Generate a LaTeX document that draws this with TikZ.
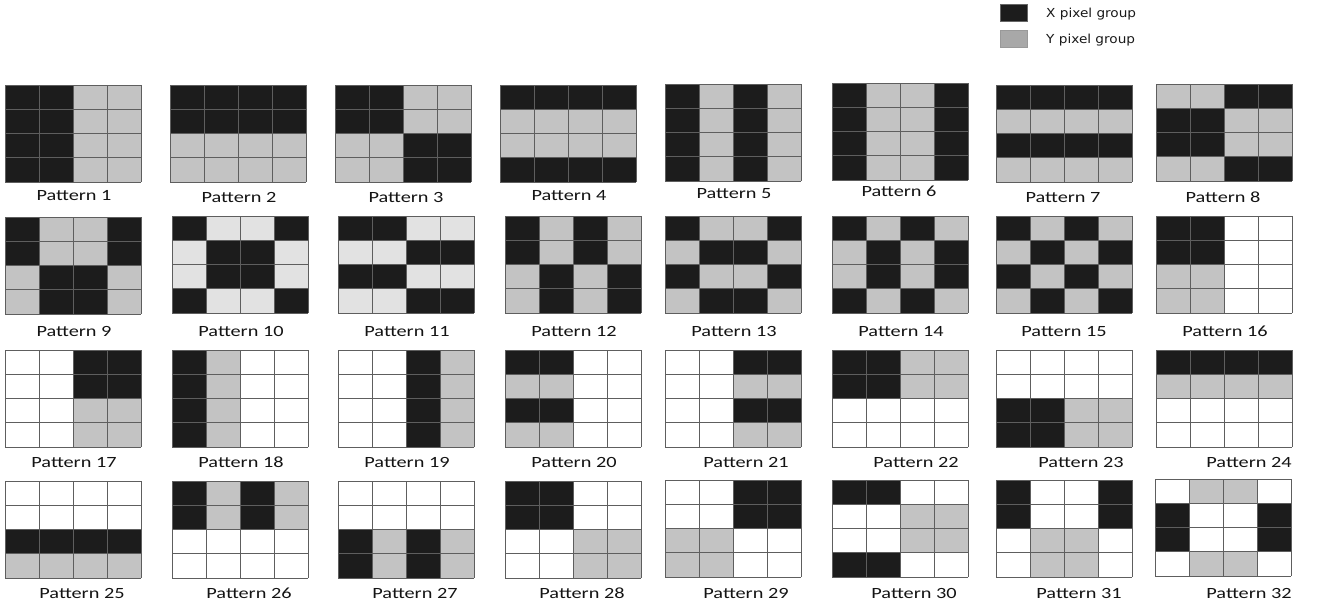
\documentclass[tikz,border=0pt]{standalone}
\usepackage{fontspec}
\newfontfamily\labfont[FakeStretch=1.3]{Carlito}
\newfontfamily\legfont[FakeStretch=1.1]{DejaVu Sans}
\definecolor{pB}{HTML}{1C1C1C}
\definecolor{pG}{HTML}{C3C3C3}
\definecolor{pL}{HTML}{E2E2E2}
\definecolor{pW}{HTML}{FFFFFF}
\definecolor{legG}{HTML}{A8A8A8}
\definecolor{gridc}{HTML}{5E5E5E}
\tikzset{
  gline/.style={draw=gridc, line width=0.8pt},
  plabel/.style={font=\labfont\fontsize{15.6}{15.6}\selectfont, text=black!92, anchor=base, inner sep=0pt},
  legtext/.style={font=\legfont\fontsize{12.4}{12.4}\selectfont, text=black!90, anchor=west, inner sep=0pt},
}
\newcommand\pgrid[6]{%
  \foreach \c [count=\i from 0] in {#3} {
    \pgfmathtruncatemacro\prow{int(\i/4)}
    \pgfmathtruncatemacro\pcol{mod(\i,4)}
    \fill[fill=p\c] ({#1+34*\pcol},{#2+24.25*\prow}) rectangle ++(34,24.25);
  }
  \foreach \pcol in {0,...,4} \draw[gline] ({#1+34*\pcol},#2) -- ++(0,97);
  \foreach \prow in {0,...,4} \draw[gline] (#1,{#2+24.25*\prow}) -- ++(136,0);
  \node[plabel] (p#6) at (#4,#5) {Pattern #6};
}
\begin{document}
\begin{tikzpicture}[x=1pt,y=-1pt]
\fill[white] (0,0) rectangle (1319,608);
\useasboundingbox (0,0) rectangle (1319,608);
% legend
\node[fill=pB, draw=black!60, line width=0.4pt, minimum width=27pt, minimum height=17pt, inner sep=0pt, anchor=north west] (legx) at (1000,4) {};
\node[fill=legG, draw=black!40, line width=0.4pt, minimum width=27pt, minimum height=17pt, inner sep=0pt, anchor=north west] (legy) at (1000,30) {};
\node[legtext] (legxt) at (1046,14) {X pixel group};
\node[legtext] (legyt) at (1046,40) {Y pixel group};
% row 1
\pgrid{5}{85}{B,B,G,G, B,B,G,G, B,B,G,G, B,B,G,G}{74}{200}{1}
\pgrid{170}{85}{B,B,B,B, B,B,B,B, G,G,G,G, G,G,G,G}{239}{202}{2}
\pgrid{335}{85}{B,B,G,G, B,B,G,G, G,G,B,B, G,G,B,B}{406}{202}{3}
\pgrid{500}{85}{B,B,B,B, G,G,G,G, G,G,G,G, B,B,B,B}{569}{200}{4}
\pgrid{665}{84}{B,G,B,G, B,G,B,G, B,G,B,G, B,G,B,G}{734}{198}{5}
\pgrid{832}{83}{B,G,G,B, B,G,G,B, B,G,G,B, B,G,G,B}{899}{196}{6}
\pgrid{996}{85}{B,B,B,B, G,G,G,G, B,B,B,B, G,G,G,G}{1063}{202}{7}
\pgrid{1156}{84}{G,G,B,B, B,B,G,G, B,B,G,G, G,G,B,B}{1223}{202}{8}
% row 2
\pgrid{5}{217}{B,G,G,B, B,G,G,B, G,B,B,G, G,B,B,G}{74}{336}{9}
\pgrid{172}{216}{B,L,L,B, L,B,B,L, L,B,B,L, B,L,L,B}{241}{336}{10}
\pgrid{338}{216}{B,B,L,L, L,L,B,B, B,B,L,L, L,L,B,B}{407}{336}{11}
\pgrid{505}{216}{B,G,B,G, B,G,B,G, G,B,G,B, G,B,G,B}{574}{336}{12}
\pgrid{665}{216}{B,G,G,B, G,B,B,G, B,G,G,B, G,B,B,G}{734}{336}{13}
\pgrid{832}{216}{B,G,B,G, G,B,G,B, G,B,G,B, B,G,B,G}{901}{336}{14}
\pgrid{996}{216}{B,G,B,G, G,B,G,B, B,G,B,G, G,B,G,B}{1064}{336}{15}
\pgrid{1156}{216}{B,B,W,W, B,B,W,W, G,G,W,W, G,G,W,W}{1225}{336}{16}
% row 3
\pgrid{5}{350}{W,W,B,B, W,W,B,B, W,W,G,G, W,W,G,G}{74}{467}{17}
\pgrid{172}{350}{B,G,W,W, B,G,W,W, B,G,W,W, B,G,W,W}{241}{467}{18}
\pgrid{338}{350}{W,W,B,G, W,W,B,G, W,W,B,G, W,W,B,G}{407}{467}{19}
\pgrid{505}{350}{B,B,W,W, G,G,W,W, B,B,W,W, G,G,W,W}{574}{467}{20}
\pgrid{665}{350}{W,W,B,B, W,W,G,G, W,W,B,B, W,W,G,G}{746}{467}{21}
\pgrid{832}{350}{B,B,G,G, B,B,G,G, W,W,W,W, W,W,W,W}{916}{467}{22}
\pgrid{996}{350}{W,W,W,W, W,W,W,W, B,B,G,G, B,B,G,G}{1081}{467}{23}
\pgrid{1156}{350}{B,B,B,B, G,G,G,G, W,W,W,W, W,W,W,W}{1249}{467}{24}
% row 4
\pgrid{5}{481}{W,W,W,W, W,W,W,W, B,B,B,B, G,G,G,G}{82}{598}{25}
\pgrid{172}{481}{B,G,B,G, B,G,B,G, W,W,W,W, W,W,W,W}{249}{598}{26}
\pgrid{338}{481}{W,W,W,W, W,W,W,W, B,G,B,G, B,G,B,G}{415}{598}{27}
\pgrid{505}{481}{B,B,W,W, B,B,W,W, W,W,G,G, W,W,G,G}{582}{598}{28}
\pgrid{665}{480}{W,W,B,B, W,W,B,B, G,G,W,W, G,G,W,W}{746}{598}{29}
\pgrid{832}{480}{B,B,W,W, W,W,G,G, W,W,G,G, B,B,W,W}{914}{598}{30}
\pgrid{996}{480}{B,W,W,B, B,W,W,B, W,G,G,W, W,G,G,W}{1079}{598}{31}
\pgrid{1155}{479}{W,G,G,W, B,W,W,B, B,W,W,B, W,G,G,W}{1249}{598}{32}
\end{tikzpicture}
\end{document}
